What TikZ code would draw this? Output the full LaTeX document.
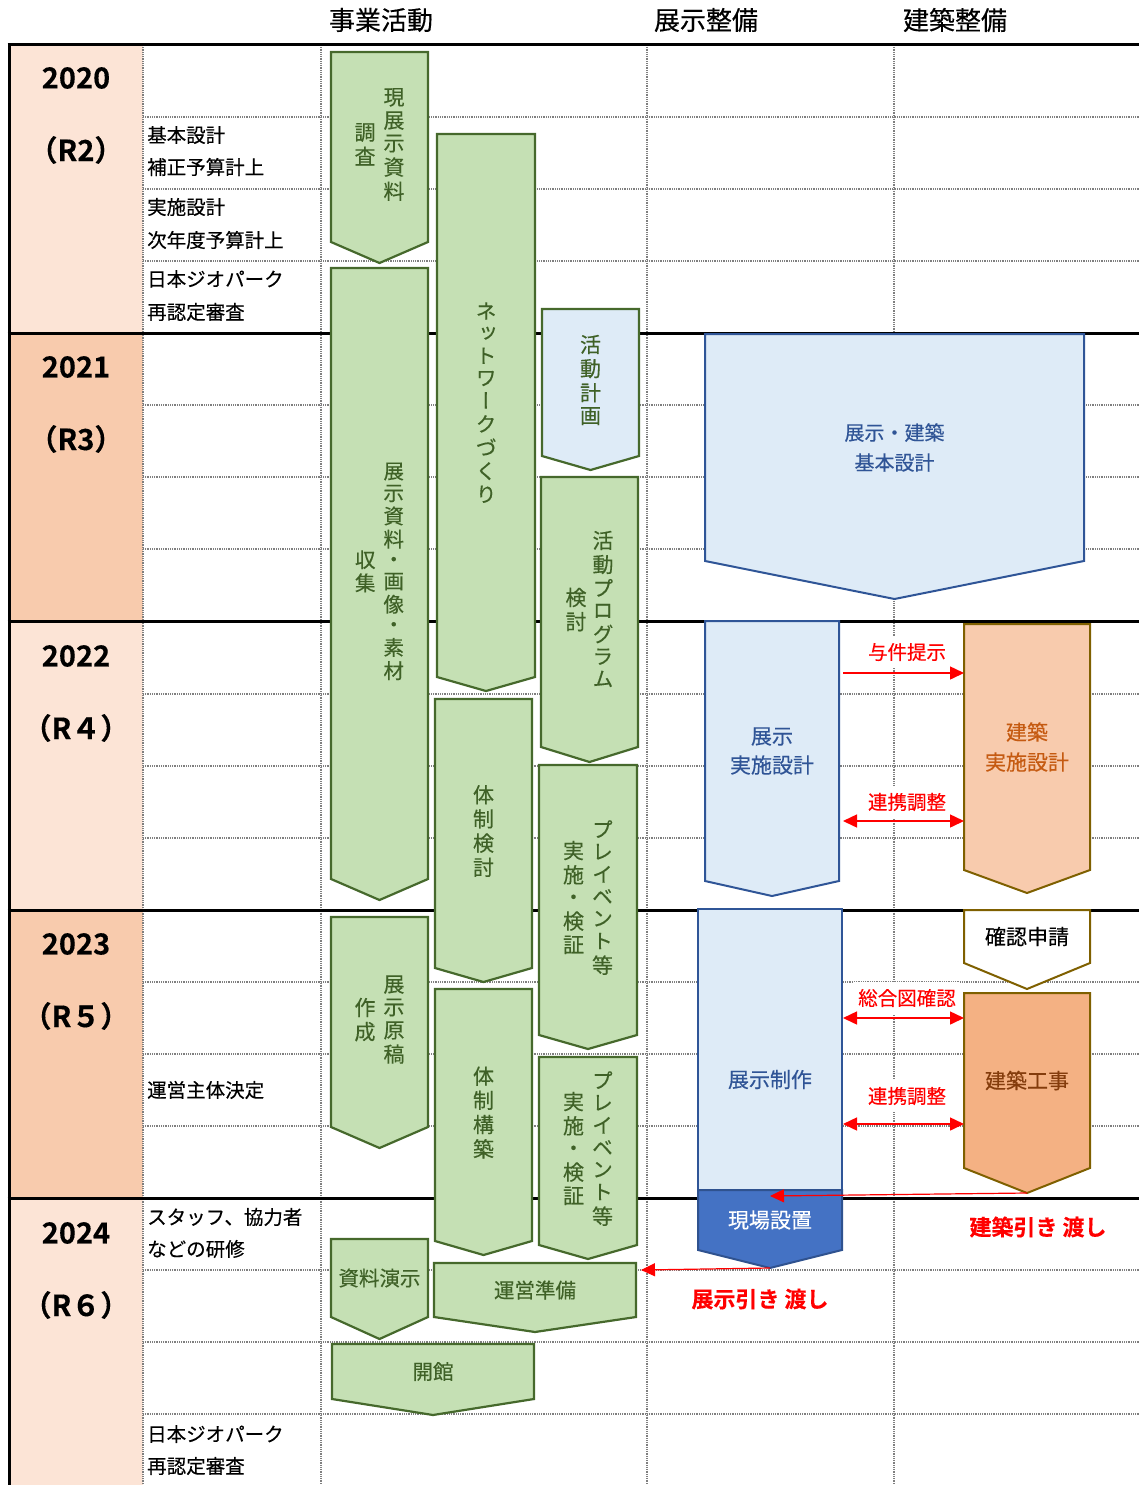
\documentclass[tikz,border=0pt]{standalone}
\usepackage{fontspec}
\setmainfont{Noto Sans CJK JP}[BoldFont={Noto Sans CJK JP Bold},FakeBold=0.3]
\newfontfamily\vjp{Noto Sans CJK JP}[RawFeature=+vert,FakeBold=0.3]
\usetikzlibrary{arrows.meta,calc}
\definecolor{gfill}{HTML}{C5E0B4}
\definecolor{gline}{HTML}{46692C}
\definecolor{gtext}{HTML}{3F6127}
\definecolor{bfill}{HTML}{DEEBF7}
\definecolor{bline}{HTML}{2F5597}
\definecolor{btext}{HTML}{2F5496}
\definecolor{sfill}{HTML}{4472C4}
\definecolor{sline}{HTML}{2F528F}
\definecolor{ofill}{HTML}{F8CBAD}
\definecolor{oline}{HTML}{7F6000}
\definecolor{otext}{HTML}{C55A11}
\definecolor{cfill}{HTML}{F4B183}
\definecolor{ctext}{HTML}{843C0C}
\definecolor{ylight}{HTML}{FCE4D6}
\definecolor{ydark}{HTML}{F8CBAD}
\definecolor{gridc}{HTML}{7F7F7F}
\definecolor{hred}{HTML}{FF0000}
\newcommand{\vcol}[1]{\begin{tabular}[c]{@{}c@{}}#1\end{tabular}}
\newcommand{\chev}[9]{%
  \node[frame, minimum width={(#4-#2)*1pt}, minimum height={(#5-#3)*1pt}] (#1) at ({(#2+#4)/2},{(#3+#5)/2}) {};
  \draw[#7] (#1.north west) -- (#1.north east) -- (#1.south east) -- ($(#1.south)+(0,#6)$) -- (#1.south west) -- cycle;
  \node[#8] (#1t) at (#1.center) {#9};
}
\tikzset{
  frame/.style={draw=none, inner sep=0pt, outer sep=0pt},
  gshape/.style={fill=gfill, draw=gline, line width=2.2pt},
  pshape/.style={fill=bfill, draw=gline, line width=2.2pt},
  bshape/.style={fill=bfill, draw=bline, line width=2pt},
  sshape/.style={fill=sfill, draw=sline, line width=2pt},
  oshape/.style={fill=ofill, draw=oline, line width=2pt},
  wshape/.style={fill=white, draw=oline, line width=2pt},
  cshape/.style={fill=cfill, draw=oline, line width=2pt},
  vtxt/.style={text=gtext, inner sep=0pt, font=\vjp\fontsize{21}{22}\selectfont},
  vtxtb/.style={text=gtext, inner sep=0pt, font=\vjp\fontsize{20.5}{20}\selectfont},
  htxt/.style={text=gtext, inner sep=0pt, font=\fontsize{20.5}{24}\selectfont},
  btxt/.style={text=btext, align=center, inner sep=0pt, font=\fontsize{20}{30}\selectfont},
  otxt/.style={text=otext, align=center, inner sep=0pt, font=\fontsize{21}{30}\selectfont},
  ctxt/.style={text=ctext, inner sep=0pt, font=\fontsize{21}{26}\selectfont},
  ktxt/.style={text=black, inner sep=0pt, font=\fontsize{21}{26}\selectfont},
  stxt/.style={text=white, inner sep=0pt, font=\fontsize{21}{26}\selectfont},
  gridl/.style={draw=gridc, line width=1.1pt, dash pattern=on 1pt off 0.8pt},
  thickl/.style={draw=black, line width=3pt},
  hdr/.style={inner sep=0pt, font=\fontsize{26}{30}\selectfont},
  yearf/.style={inner sep=0pt, font=\bfseries\fontsize{29}{32}\selectfont},
  note/.style={anchor=west, inner sep=0pt, font=\fontsize{19.5}{22}\selectfont},
  rlab/.style={text=hred, fill=white, inner xsep=4pt, inner ysep=7pt, font=\fontsize{19.5}{22}\selectfont},
  hand/.style={text=hred, inner sep=0pt, font=\bfseries\fontsize{22}{26}\selectfont},
  rarr/.style={draw=hred, line width=1.5pt, -{Triangle[length=14pt,width=13pt]}},
  rdarr/.style={draw=hred, line width=1.5pt, {Triangle[length=14pt,width=13pt]}-{Triangle[length=14pt,width=13pt]}},
}
\begin{document}
\begin{tikzpicture}[x=1pt,y=-1pt]
\useasboundingbox (0,0) rectangle (1139,1485);
% year column fills
\fill[ylight] (9,45) rectangle (143,333);
\fill[ydark] (9,333) rectangle (143,621);
\fill[ylight] (9,621) rectangle (143,910);
\fill[ydark] (9,910) rectangle (143,1198);
\fill[ylight] (9,1198) rectangle (143,1485);
% grid
\foreach \y in {117,189,261,405,477,549,694,766,838,982,1054,1126,1270,1342,1414}
  \draw[gridl] (143,\y) -- (1139,\y);
\foreach \x in {143,321,647,894}
  \draw[gridl] (\x,45) -- (\x,1485);
\foreach \y in {45,333,621,910,1198}
  \draw[thickl] (7.5,\y) -- (1139,\y);
\draw[thickl] (9,45) -- (9,1485);
% headers
\node[hdr] (h1) at (381,20) {事業活動};
\node[hdr] (h2) at (706,20) {展示整備};
\node[hdr] (h3) at (955,20) {建築整備};
% years
\node[yearf] (y20) at (76,78) {2020};
\node[yearf] (r20) at (76,150) {（R2）};
\node[yearf] (y21) at (76,367) {2021};
\node[yearf] (r21) at (76,439) {（R3）};
\node[yearf] (y22) at (76,656) {2022};
\node[yearf] (r22) at (76,728) {（R４）};
\node[yearf] (y23) at (76,944) {2023};
\node[yearf] (r23) at (76,1016) {（R５）};
\node[yearf] (y24) at (76,1233) {2024};
\node[yearf] (r24) at (76,1305) {（R６）};
% notes
\node[note] (n1) at (147,135) {基本設計};
\node[note] (n2) at (147,167) {補正予算計上};
\node[note] (n3) at (147,207) {実施設計};
\node[note] (n4) at (147,240) {次年度予算計上};
\node[note] (n5) at (147,279) {日本ジオパーク};
\node[note] (n6) at (147,312) {再認定審査};
\node[note] (n7) at (147,1090) {運営主体決定};
\node[note] (n8) at (147,1217) {スタッフ、協力者};
\node[note] (n9) at (147,1249) {などの研修};
\node[note] (n10) at (147,1434) {日本ジオパーク};
\node[note] (n11) at (147,1466) {再認定審査};
% business activity arrows
\chev{survey}{331}{52}{428}{242}{21}{gshape}{vtxt}{\vcol{調\\査}\hspace{8pt}\vcol{現\\展\\示\\資\\料}}
\chev{collect}{331}{268}{428}{879}{21}{gshape}{vtxtb}{\vcol{収\\集}\hspace{8pt}\vcol{展\\示\\資\\料\\・\\画\\像\\・\\素\\材}}
\chev{network}{437}{134}{535}{677}{14}{gshape}{vtxt}{\vcol{ネ\\ッ\\ト\\ワ\\ー\\ク\\づ\\く\\り}}
\chev{plan}{542}{309}{639}{456}{14}{pshape}{vtxt}{\vcol{活\\動\\計\\画}}
\chev{prog}{541}{477}{638}{747}{15}{gshape}{vtxt}{\vcol{検\\討}\hspace{6pt}\vcol{活\\動\\プ\\ロ\\グ\\ラ\\ム}}
\chev{sysa}{435}{699}{532}{968}{14}{gshape}{vtxt}{\vcol{体\\制\\検\\討}}
\chev{prea}{539}{765}{637}{1035}{14}{gshape}{vtxt}{\vcol{実\\施\\・\\検\\証}\hspace{8pt}\vcol{プ\\レ\\イ\\ベ\\ン\\ト\\等}}
\chev{draft}{331}{917}{428}{1127}{21}{gshape}{vtxt}{\vcol{作\\成}\hspace{8pt}\vcol{展\\示\\原\\稿}}
\chev{sysb}{435}{989}{532}{1241}{14}{gshape}{vtxt}{\vcol{体\\制\\構\\築}}
\chev{preb}{539}{1057}{637}{1245}{14}{gshape}{vtxt}{\vcol{実\\施\\・\\検\\証}\hspace{8pt}\vcol{プ\\レ\\イ\\ベ\\ン\\ト\\等}}
\chev{demo}{331}{1239}{428}{1317}{22}{gshape}{htxt}{資料演示}
\chev{prep}{434}{1263}{636}{1317}{15}{gshape}{htxt}{運営準備}
\chev{open}{332}{1344}{534}{1399}{16}{gshape}{htxt}{開館}
% exhibition
\chev{basic}{705}{334}{1084}{561}{38}{bshape}{btxt}{展示・建築\\基本設計}
\chev{exdd}{705}{621}{839}{881}{15}{bshape}{btxt,font=\fontsize{21}{29}\selectfont}{展示\\実施設計}
\chev{exmake}{698}{909}{842}{1250}{0}{bshape}{btxt,font=\fontsize{21}{26}\selectfont}{展示制作}
\chev{exsite}{698}{1190}{842}{1250}{18}{sshape}{stxt}{現場設置}
% architecture
\chev{ardd}{964}{624}{1090}{870}{23}{oshape}{otxt}{建築\\実施設計}
\chev{apply}{964}{910}{1090}{963}{26}{wshape}{ktxt}{確認申請}
\chev{arcon}{964}{993}{1090}{1168}{25}{cshape}{ctxt}{建築工事}
% red connectors
\node[rlab] (l1) at (907,652) {与件提示};
\draw[rarr] ($(exdd.east |- 0,673)+(4,0)$) -- (ardd.west |- 0,673);
\node[rlab] (l2) at (907,802) {連携調整};
\draw[rdarr] ($(exdd.east |- 0,821)+(4,0)$) -- (ardd.west |- 0,821);
\node[rlab] (l3) at (907,998) {総合図確認};
\draw[rdarr] ($(exmake.east |- 0,1018)+(1,0)$) -- (arcon.west |- 0,1018);
\node[rlab] (l4) at (907,1096) {連携調整};
\draw[rdarr] ($(exmake.east |- 0,1124)+(1,0)$) -- (arcon.west |- 0,1124);
\draw[rarr, line width=1.2pt] ($(arcon.south)+(0,25)$) -- ($(exsite.north)+(0,6)$);
\draw[rarr, line width=1.2pt] ($(exsite.south)+(0,18)$) -- ($(prep.east |- 0,1270)+(5,0)$);
\node[hand] (hb) at (1038,1227) {建築引き 渡し};
\node[hand] (he) at (760,1299) {展示引き 渡し};
\end{tikzpicture}
\end{document}
